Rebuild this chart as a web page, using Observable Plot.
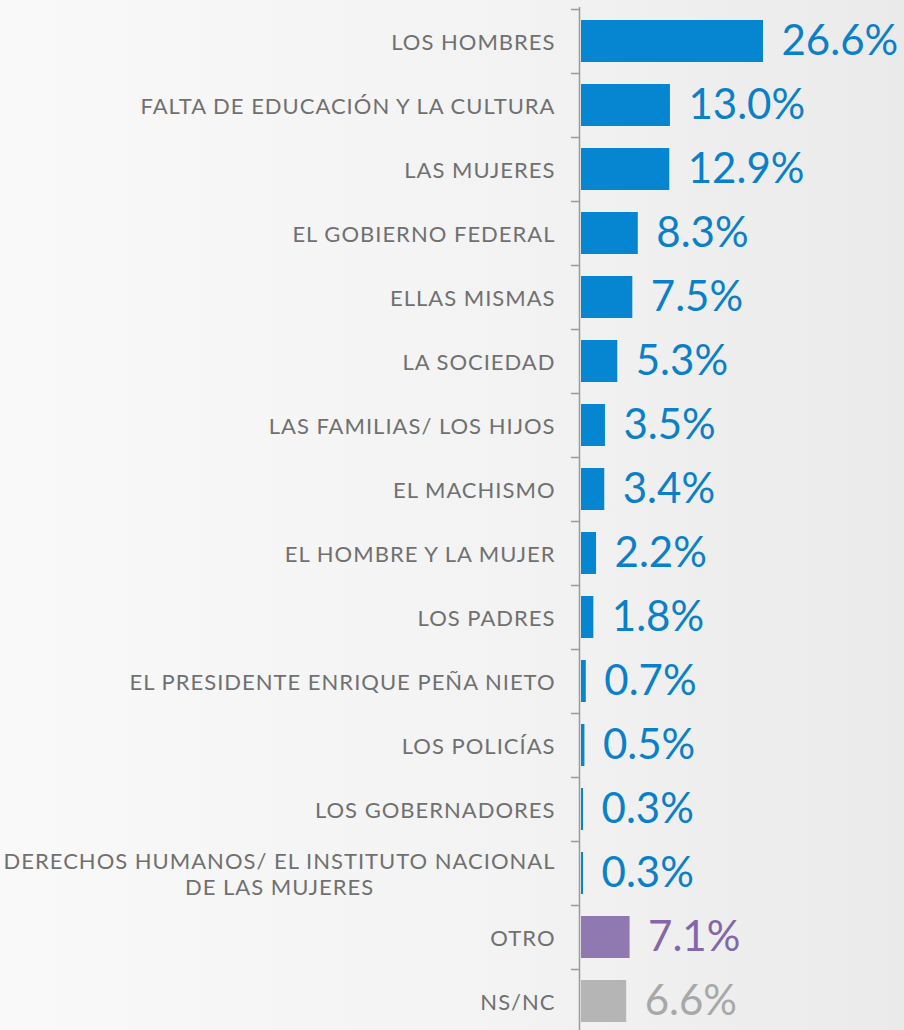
<!DOCTYPE html>
<html><head><meta charset="utf-8">
<script src="https://cdn.jsdelivr.net/npm/d3@7"></script>
<script src="https://cdn.jsdelivr.net/npm/@observablehq/plot@0.6"></script>
<style>
html,body{margin:0;padding:0;}
body{width:904px;height:1030px;overflow:hidden;background:linear-gradient(to right,#f9f9f9 0%,#f3f3f3 55%,#eaeaea 100%);}
</style></head><body><div id="chart"></div>
<script>
const categories = [
  "LOS HOMBRES",
  "FALTA DE EDUCACIÓN Y LA CULTURA",
  "LAS MUJERES",
  "EL GOBIERNO FEDERAL",
  "ELLAS MISMAS",
  "LA SOCIEDAD",
  "LAS FAMILIAS/ LOS HIJOS",
  "EL MACHISMO",
  "EL HOMBRE Y LA MUJER",
  "LOS PADRES",
  "EL PRESIDENTE ENRIQUE PEÑA NIETO",
  "LOS POLICÍAS",
  "LOS GOBERNADORES",
  "DERECHOS HUMANOS/ EL INSTITUTO NACIONAL\nDE LAS MUJERES",
  "OTRO",
  "NS/NC"
];
const values = [26.6, 13.0, 12.9, 8.3, 7.5, 5.3, 3.5, 3.4, 2.2, 1.8, 0.7, 0.5, 0.3, 0.3, 7.1, 6.6];
const groups = ["main","main","main","main","main","main","main","main","main","main","main","main","main","main","otro","nsnc"];
const barColors = {main: "#0686D0", otro: "#9079B0", nsnc: "#B5B5B5"};
const textColors = {main: "#0A80C9", otro: "#8367A8", nsnc: "#A8A8A8"};

const data = categories.map((c, i) => ({category: c, value: values[i], group: groups[i]}));

const chart = Plot.plot({
  width: 904,
  height: 1030,
  marginLeft: 581,
  marginRight: 141,
  marginTop: 7,
  marginBottom: 0,
  style: {background: "transparent", fontFamily: "Lato, 'Open Sans', sans-serif"},
  x: {domain: [0, 26.6], axis: null},
  y: {domain: categories, range: [7, 1035], paddingInner: 0.35, paddingOuter: 0.175, label: null},
  marks: [
    Plot.ruleX([0], {stroke: "#9b9b9b", strokeWidth: 1.5, dx: -2}),
    Plot.axisY({tickSize: 8, tickFormat: () => "", label: null, dx: -2, dy: -32, stroke: "#9b9b9b", strokeWidth: 1.5}),
    Plot.barX(data, {x: "value", y: "category", fill: d => barColors[d.group]}),
    Plot.axisY({tickSize: 0, tickPadding: 26, label: null, fontSize: 22, fill: "#707070", lineHeight: 1.18}),
    Plot.text(data, {
      x: "value", y: "category",
      text: d => d.value.toFixed(1) + "%",
      dx: 18, textAnchor: "start",
      fontSize: 42,
      fill: d => textColors[d.group]
    })
  ]
});
document.getElementById("chart").appendChild(chart);

// label styling: wider tracking, center-align the two-line label
chart.querySelectorAll("g[aria-label='y-axis tick label'] text").forEach(t => {
  t.style.letterSpacing = "1px";
});
chart.querySelectorAll("text").forEach(t => {
  if (t.textContent.startsWith("DERECHOS")) {
    const tspans = t.querySelectorAll("tspan");
    if (tspans.length) {
      const w = Math.max(...Array.from(tspans).map(s => s.getComputedTextLength()));
      t.setAttribute("text-anchor", "middle");
      tspans.forEach(s => s.setAttribute("x", -w / 2));
    }
  }
});
</script>
</body></html>
